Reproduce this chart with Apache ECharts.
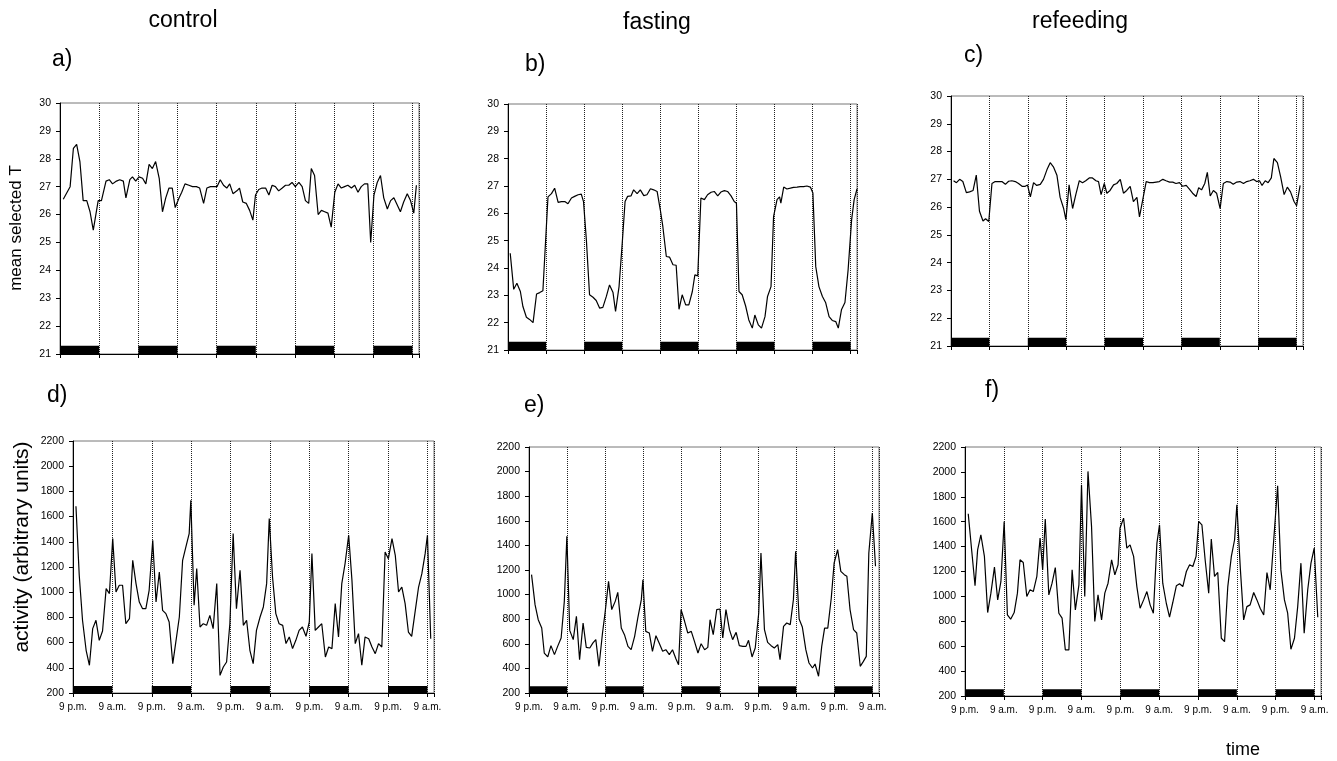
<!DOCTYPE html>
<html><head><meta charset="utf-8">
<script src="https://cdn.jsdelivr.net/npm/echarts@6/dist/echarts.min.js"></script>
<style>html,body{margin:0;padding:0;background:#fff}#c{width:1337px;height:761px}</style>
</head><body><div id="c"></div><script>
// ---------- data ----------
const conditions = ['control', 'fasting', 'refeeding'];
const panelLetters = ['a)', 'b)', 'c)', 'd)', 'e)', 'f)'];
const tempAxisName = 'mean selected T';
const activityAxisName = 'activity (arbitrary units)';
const timeAxisName = 'time';
const tickLabels = ['9 p.m.', '9 a.m.'];      // every 12 h, starting at 9 p.m.
const nightStarts = [0, 24, 48, 72, 96];      // hours since first 9 p.m.
const nightLength = 12;
const tempRange = [21, 30, 1];
const activityRange = [200, 2200, 200];
const tempBarTop = 21.3;
const activityBarTop = 255;

// [hours since 9 p.m., value]
const controlTemp = [[1.0,26.55],[3.1,27.0],[4.1,28.37],[5.1,28.52],[6.1,27.9],[7.1,26.5],[8.2,26.5],[9.2,26.1],[10.2,25.44],[11.7,26.5],[12.7,26.5],[14.1,27.2],[15.1,27.25],[16.1,27.1],[17.3,27.2],[18.3,27.25],[19.4,27.2],[20.2,26.6],[21.4,27.25],[22.2,27.35],[23.2,27.2],[24.2,27.35],[25.3,27.3],[26.3,27.1],[27.3,27.8],[28.3,27.65],[29.3,27.9],[30.4,27.3],[31.4,26.1],[32.4,26.6],[33.4,26.95],[34.4,26.95],[35.3,26.25],[36.5,26.6],[37.3,26.8],[38.3,27.1],[39.5,27.05],[40.6,27.0],[41.8,27.0],[42.8,26.95],[44.0,26.4],[45.0,26.95],[46.1,27.0],[47.1,27.0],[48.1,27.0],[49.1,27.25],[50.1,27.05],[51.1,26.95],[52.0,27.1],[53.0,26.75],[54.2,26.85],[55.0,26.95],[56.0,26.45],[57.1,26.4],[58.1,26.15],[59.1,25.8],[59.9,26.7],[60.9,26.9],[61.9,26.95],[63.0,26.95],[64.0,26.7],[65.0,27.05],[66.0,27.0],[67.0,26.85],[68.1,26.95],[69.1,27.05],[70.1,27.05],[71.1,27.15],[72.1,27.0],[73.2,27.15],[74.2,27.0],[75.2,26.5],[76.2,26.4],[77.0,27.65],[78.0,27.4],[79.1,26.0],[80.1,26.15],[81.1,26.1],[82.1,26.05],[83.1,25.55],[84.2,26.8],[85.2,27.1],[86.2,26.95],[87.2,27.0],[88.2,27.05],[89.3,26.95],[90.3,27.05],[91.3,26.8],[92.3,27.0],[93.3,27.1],[94.3,27.1],[95.2,25.0],[96.2,26.7],[97.2,27.15],[98.2,27.4],[99.2,26.6],[100.3,26.2],[101.3,26.5],[102.3,26.6],[103.3,26.35],[104.3,26.1],[105.3,26.45],[106.4,26.75],[107.4,26.5],[108.4,26.05],[109.2,27.05]];

const fastingTemp = [[0.7,24.54],[1.8,23.22],[2.8,23.44],[3.9,23.14],[4.7,22.59],[5.8,22.2],[6.8,22.12],[7.9,22.0],[9.0,23.05],[10.0,23.1],[11.0,23.17],[12.6,26.6],[13.7,26.72],[14.7,26.92],[15.8,26.4],[16.8,26.43],[17.9,26.43],[18.9,26.35],[20.0,26.56],[21.0,26.62],[22.1,26.68],[23.1,26.7],[23.8,26.43],[24.7,25.03],[25.7,23.02],[26.8,22.93],[27.8,22.81],[28.9,22.53],[29.9,22.56],[31.0,22.96],[32.0,23.38],[33.1,23.1],[33.9,22.41],[35.0,23.32],[36.0,24.9],[36.9,26.43],[37.7,26.62],[38.8,26.64],[39.6,26.86],[40.7,26.72],[41.7,26.86],[42.8,26.65],[43.8,26.68],[44.9,26.9],[45.9,26.86],[47.0,26.8],[48.0,26.13],[48.8,25.52],[49.9,24.42],[50.9,24.4],[52.0,24.12],[53.0,24.1],[53.9,22.49],[54.9,23.02],[56.0,22.65],[57.0,22.65],[58.1,23.14],[58.9,23.75],[59.8,23.71],[60.8,26.56],[61.9,26.5],[62.9,26.68],[64.0,26.77],[65.0,26.8],[66.1,26.64],[67.1,26.78],[68.2,26.83],[69.2,26.8],[70.3,26.64],[71.3,26.43],[72.0,26.37],[72.8,23.14],[73.8,23.02],[74.9,22.61],[75.9,22.1],[77.0,21.8],[77.8,22.28],[78.9,21.92],[79.9,21.8],[81.0,22.22],[81.8,22.96],[82.9,23.32],[83.7,25.88],[84.8,26.5],[85.6,26.6],[86.0,26.37],[86.9,26.96],[87.9,26.89],[89.0,26.92],[90.0,26.95],[91.1,26.96],[92.1,26.98],[93.2,26.98],[94.2,27.0],[95.3,26.96],[96.1,26.74],[97.0,24.05],[98.0,23.32],[99.1,22.96],[100.1,22.74],[101.2,22.22],[102.2,22.08],[103.3,22.04],[104.1,21.8],[105.1,22.47],[106.2,22.74],[107.2,23.93],[108.3,25.76],[109.1,26.5],[110.0,26.89]];

const refeedingTemp = [[0.8,26.95],[1.7,26.88],[2.7,27.0],[3.7,26.92],[4.8,26.52],[5.8,26.55],[6.9,26.6],[7.9,27.15],[8.9,25.85],[10.0,25.5],[10.8,25.58],[11.8,25.48],[12.8,26.85],[13.8,26.92],[14.9,26.92],[15.9,26.92],[17.0,26.82],[18.0,26.93],[19.0,26.95],[20.1,26.92],[21.1,26.85],[22.2,26.75],[23.2,26.75],[23.9,26.8],[24.8,26.37],[25.8,26.88],[26.8,26.78],[27.9,26.82],[28.9,27.0],[30.0,27.35],[31.0,27.6],[32.0,27.45],[33.1,27.15],[34.1,26.35],[35.2,25.95],[35.9,25.55],[36.9,26.8],[38.0,25.95],[39.0,26.45],[40.1,26.95],[41.1,26.88],[42.1,26.95],[43.2,27.05],[44.2,27.05],[45.3,26.95],[46.1,26.92],[46.9,26.45],[47.9,26.85],[48.7,26.5],[49.7,26.6],[50.8,26.8],[51.8,26.85],[52.9,27.0],[53.9,26.5],[54.9,26.6],[56.0,26.75],[57.0,26.2],[58.1,26.35],[58.9,25.65],[59.9,26.25],[61.0,26.92],[62.0,26.88],[63.1,26.88],[64.1,26.9],[65.1,26.92],[66.2,27.0],[67.2,26.95],[68.3,26.9],[69.3,26.9],[70.3,26.85],[71.4,26.88],[72.4,26.75],[73.5,26.78],[74.5,26.65],[75.5,26.5],[76.6,26.38],[77.4,26.7],[78.3,26.62],[79.3,26.85],[80.1,27.25],[81.0,26.4],[82.0,26.6],[83.0,26.5],[84.1,25.95],[85.1,26.85],[86.2,26.92],[87.2,26.9],[88.2,26.82],[89.3,26.9],[90.3,26.92],[91.4,26.85],[92.4,26.92],[93.4,26.95],[94.5,27.0],[95.5,26.92],[96.4,26.95],[97.2,26.78],[98.2,26.95],[99.1,26.88],[100.1,27.05],[100.9,27.75],[102.0,27.6],[103.0,27.1],[104.1,26.45],[105.1,26.72],[106.1,26.55],[107.2,26.2],[108.0,26.05],[109.1,26.78]];

const controlActivity = [[0.9,1682],[1.9,1134],[2.9,777],[4.0,539],[5.0,420],[6.0,711],[7.0,777],[8.0,618],[9.0,692],[10.1,1028],[11.1,989],[12.1,1425],[13.1,1002],[14.1,1055],[15.1,1055],[16.1,750],[17.2,790],[18.2,1253],[19.2,1068],[20.2,922],[21.2,869],[22.2,869],[23.2,1015],[24.3,1412],[25.3,922],[26.3,1160],[27.3,856],[28.3,830],[29.3,764],[30.4,433],[31.4,618],[32.4,803],[33.4,1253],[34.4,1359],[35.4,1465],[35.9,1729],[36.9,896],[37.7,1187],[38.7,724],[39.7,750],[40.7,737],[41.7,816],[42.7,711],[43.8,1068],[44.8,340],[45.8,406],[46.8,446],[47.8,750],[48.8,1465],[49.8,869],[50.9,1174],[51.9,737],[52.9,777],[53.9,539],[54.9,433],[55.9,697],[57.0,803],[58.0,883],[59.0,1068],[59.8,1584],[60.8,1121],[61.8,830],[62.8,750],[63.9,737],[64.9,592],[65.9,645],[66.9,552],[67.9,618],[68.9,697],[69.9,724],[71.0,650],[72.0,764],[72.8,1306],[73.8,697],[74.8,724],[75.8,750],[76.9,486],[77.9,565],[78.9,552],[79.9,909],[80.9,645],[81.9,1068],[82.9,1227],[84.0,1452],[85.0,1094],[86.0,592],[87.0,671],[88.0,420],[89.0,645],[90.1,631],[91.1,565],[92.1,512],[93.1,592],[94.1,565],[95.1,1319],[96.1,1266],[97.2,1425],[98.2,1293],[99.2,1002],[100.2,1041],[101.2,909],[102.2,684],[103.2,650],[104.3,856],[105.3,1041],[106.3,1147],[107.3,1306],[108.0,1452],[109.0,631]];

const fastingActivity = [[0.8,1162],[1.9,918],[2.9,796],[4.0,728],[4.8,525],[5.9,493],[6.9,585],[8.0,512],[9.0,579],[10.1,647],[11.1,945],[11.9,1474],[12.8,709],[13.9,634],[14.9,823],[15.9,471],[17.0,769],[18.0,571],[19.1,566],[20.1,607],[21.0,634],[22.0,417],[23.1,688],[23.9,850],[25.0,1108],[26.0,878],[27.1,945],[27.9,1018],[29.0,728],[30.0,674],[31.1,579],[32.1,552],[33.2,661],[34.2,810],[35.3,959],[35.8,1121],[36.7,701],[37.8,688],[38.8,539],[39.9,666],[40.9,607],[42.0,539],[43.0,552],[44.1,512],[45.1,552],[46.2,476],[47.0,430],[47.8,878],[48.9,783],[49.9,688],[51.0,701],[52.0,620],[53.1,525],[54.1,601],[55.2,552],[56.2,571],[56.9,796],[57.9,674],[59.0,878],[60.0,883],[60.9,647],[61.9,878],[63.0,715],[64.0,634],[65.1,693],[66.1,585],[67.2,579],[68.2,579],[69.0,628],[70.1,493],[71.1,566],[72.2,850],[72.9,1338],[74.0,715],[75.0,612],[76.1,585],[77.1,566],[78.2,593],[78.9,471],[80.0,742],[81.0,769],[82.1,756],[83.1,959],[83.8,1352],[84.9,802],[85.9,737],[87.0,552],[88.0,444],[89.1,403],[89.9,436],[91.0,336],[92.0,579],[92.9,728],[93.9,728],[95.0,972],[95.9,1257],[97.0,1365],[98.0,1189],[99.1,1162],[99.9,1149],[100.9,878],[102.0,715],[103.0,688],[104.1,417],[105.1,457],[106.0,498],[106.8,1338],[107.9,1663],[108.9,1230]];

const refeedingActivity = [[1.0,1664],[2.1,1361],[3.1,1085],[3.9,1374],[4.9,1495],[6.0,1321],[7.0,870],[8.0,1026],[9.1,1235],[10.1,972],[11.1,1120],[12.1,1602],[13.1,851],[14.1,817],[15.2,870],[16.2,1026],[17.0,1294],[18.0,1272],[19.1,999],[20.1,1053],[21.1,1039],[22.2,1160],[23.2,1468],[24.0,1213],[24.8,1621],[25.9,1012],[26.9,1106],[27.9,1232],[29.0,865],[30.0,825],[31.0,570],[32.1,570],[33.1,1213],[34.1,892],[35.2,1093],[36.0,1897],[37.0,999],[38.0,2004],[39.1,1562],[40.1,798],[41.1,1012],[42.2,811],[43.2,1026],[44.2,1106],[45.3,1294],[46.3,1173],[47.3,1254],[47.9,1549],[49.0,1629],[50.0,1388],[51.0,1414],[52.1,1321],[53.1,1079],[54.1,905],[55.2,972],[56.2,1039],[57.2,932],[58.2,865],[59.3,1428],[60.1,1575],[61.1,1106],[62.2,945],[63.2,833],[64.2,951],[65.3,1085],[66.3,1101],[67.3,1079],[68.4,1200],[69.4,1254],[70.4,1240],[71.4,1321],[72.2,1602],[73.2,1575],[74.2,1294],[75.3,1026],[76.1,1460],[77.1,1160],[78.1,1192],[79.2,664],[80.2,637],[81.2,1079],[82.3,1321],[83.3,1455],[84.0,1736],[85.1,1213],[86.1,811],[87.1,918],[88.1,932],[89.2,1031],[90.2,972],[91.2,905],[92.3,851],[93.3,1192],[94.3,1053],[95.4,1455],[96.6,1889],[97.6,1213],[98.7,972],[99.7,865],[100.7,575],[101.8,664],[102.8,918],[103.8,1267],[104.8,704],[105.9,1053],[106.9,1267],[107.9,1388],[109.0,833]];

// ---------- chart ----------
const FONT = '"Liberation Sans", Arial, Helvetica, sans-serif';
const panels = [
  {data: controlTemp, range: tempRange, barTop: tempBarTop, labels: false},
  {data: fastingTemp, range: tempRange, barTop: tempBarTop, labels: false},
  {data: refeedingTemp, range: tempRange, barTop: tempBarTop, labels: false},
  {data: controlActivity, range: activityRange, barTop: activityBarTop, labels: true},
  {data: fastingActivity, range: activityRange, barTop: activityBarTop, labels: true},
  {data: refeedingActivity, range: activityRange, barTop: activityBarTop, labels: true}
];
const gridBoxes = [
  {left: 60, top: 103, width: 359, height: 251},
  {left: 508, top: 104, width: 349, height: 246},
  {left: 951, top: 96, width: 352, height: 250},
  {left: 73, top: 441, width: 361, height: 252},
  {left: 529, top: 447, width: 350, height: 246},
  {left: 965, top: 447, width: 356, height: 249}
];
const xMax = 110;

const option = {
  animation: false,
  backgroundColor: '#fff',
  textStyle: {fontFamily: FONT},
  grid: gridBoxes.map(g => Object.assign({show: true, borderColor: '#777', borderWidth: 1, containLabel: false, outerBoundsMode: 'none'}, g)),
  xAxis: panels.map((p, i) => ({
    gridIndex: i, type: 'value', min: 0, max: xMax, interval: 12,
    axisLine: {show: true, onZero: false, lineStyle: {color: '#000', width: 1}},
    axisTick: {show: true, length: 4, lineStyle: {color: '#000'}},
    axisLabel: {
      show: p.labels, fontSize: 10, color: '#000', margin: 9, fontFamily: FONT,
      showMinLabel: true, showMaxLabel: true, hideOverlap: false,
      formatter: v => (v % 12 === 0 && v <= 108) ? tickLabels[(v / 12) % 2] : ''
    },
    splitLine: {show: true, lineStyle: {type: 'dotted', color: '#222', width: 1}}
  })),
  yAxis: panels.map((p, i) => ({
    gridIndex: i, type: 'value', min: p.range[0], max: p.range[1], interval: p.range[2],
    axisLine: {show: true, lineStyle: {color: '#000', width: 1}},
    axisTick: {show: true, length: 4, lineStyle: {color: '#000'}},
    axisLabel: {fontSize: 10.5, color: '#000', margin: 9, fontFamily: FONT, formatter: v => String(v)},
    splitLine: {show: false}
  })),
  series: panels.map((p, i) => ({
    type: 'line', xAxisIndex: i, yAxisIndex: i, data: p.data,
    showSymbol: false, symbol: 'none', silent: true,
    lineStyle: {color: '#000', width: 1.2},
    markArea: {
      silent: true,
      itemStyle: {color: '#000', opacity: 1},
      label: {show: false},
      data: nightStarts.map(s => [{xAxis: s, yAxis: p.range[0]}, {xAxis: s + nightLength, yAxis: p.barTop}])
    }
  })),
  graphic: [
    {type: 'text', x: 183, y: 21, style: {text: conditions[0], font: '23px ' + FONT, fill: '#000', textAlign: 'center', textVerticalAlign: 'middle'}},
    {type: 'text', x: 657, y: 23, style: {text: conditions[1], font: '23px ' + FONT, fill: '#000', textAlign: 'center', textVerticalAlign: 'middle'}},
    {type: 'text', x: 1080, y: 22, style: {text: conditions[2], font: '23px ' + FONT, fill: '#000', textAlign: 'center', textVerticalAlign: 'middle'}},
    {type: 'text', x: 52, y: 60, style: {text: panelLetters[0], font: '23px ' + FONT, fill: '#000', textAlign: 'left', textVerticalAlign: 'middle'}},
    {type: 'text', x: 525, y: 65, style: {text: panelLetters[1], font: '23px ' + FONT, fill: '#000', textAlign: 'left', textVerticalAlign: 'middle'}},
    {type: 'text', x: 964, y: 56, style: {text: panelLetters[2], font: '23px ' + FONT, fill: '#000', textAlign: 'left', textVerticalAlign: 'middle'}},
    {type: 'text', x: 47, y: 396, style: {text: panelLetters[3], font: '23px ' + FONT, fill: '#000', textAlign: 'left', textVerticalAlign: 'middle'}},
    {type: 'text', x: 524, y: 406, style: {text: panelLetters[4], font: '23px ' + FONT, fill: '#000', textAlign: 'left', textVerticalAlign: 'middle'}},
    {type: 'text', x: 985, y: 391, style: {text: panelLetters[5], font: '23px ' + FONT, fill: '#000', textAlign: 'left', textVerticalAlign: 'middle'}},
    {type: 'text', x: 16, y: 228, rotation: Math.PI / 2, style: {text: tempAxisName, font: '17px ' + FONT, fill: '#000', textAlign: 'center', textVerticalAlign: 'middle'}},
    {type: 'text', x: 22, y: 547, rotation: Math.PI / 2, style: {text: activityAxisName, font: '21px ' + FONT, fill: '#000', textAlign: 'center', textVerticalAlign: 'middle'}},
    {type: 'text', x: 1243, y: 750, style: {text: timeAxisName, font: '18px ' + FONT, fill: '#000', textAlign: 'center', textVerticalAlign: 'middle'}}
  ]
};

const chart = echarts.init(document.getElementById('c'), null, {renderer: 'canvas'});
chart.setOption(option);
</script></body></html>
